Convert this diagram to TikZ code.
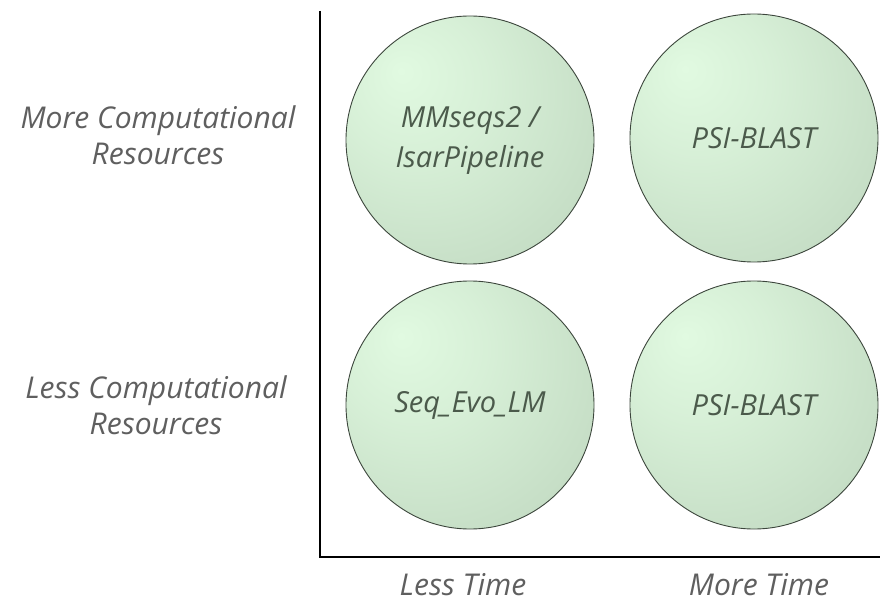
\documentclass[tikz,border=0pt]{standalone}
\usepackage{fontspec}
\setmainfont{Open Sans}
\definecolor{labelgray}{RGB}{95,95,95}
\definecolor{balltext}{RGB}{75,90,75}
\definecolor{ballhl}{RGB}{225,250,225}
\definecolor{ballmid}{RGB}{196,220,196}
\definecolor{balledge}{RGB}{160,186,160}
\definecolor{ballline}{RGB}{60,70,60}
\pgfdeclareradialshading{greenball}{\pgfpoint{-14bp}{14bp}}{%
  color(0bp)=(ballhl); color(15bp)=(ballhl!65!ballmid); color(38bp)=(ballmid); color(62bp)=(balledge); color(80bp)=(balledge)}
\tikzset{
  ball/.style={circle, minimum size=248pt, inner sep=0pt, draw=ballline, line width=0.9pt,
    shading=greenball, text=balltext, font=\itshape\fontsize{29}{40}\selectfont, align=center},
  axislabel/.style={text=labelgray, font=\itshape\fontsize{30}{36}\selectfont, align=center, inner sep=0pt},
  axisline/.style={line width=2.8pt, black}
}
\begin{document}
\begin{tikzpicture}[x=1pt,y=1pt]
\useasboundingbox (0,0) rectangle (880,603);
% axes
\coordinate (top) at (320,592);
\coordinate (origin) at (320,46);
\coordinate (right) at (880,46);
\draw[axisline] (top) -- (origin) -- (right);
% balls
\node[ball] (tl) at (470,463) {MMseqs2 /\\IsarPipeline};
\node[ball] (tr) at (754,465) {PSI-BLAST};
\node[ball] (bl) at (470,198) {Seq\_Evo\_LM};
\node[ball] (br) at (754,198) {PSI-BLAST};
% labels
\node[axislabel] (more) at (158,468) {More Computational\\Resources};
\node[axislabel] (less) at (156,198) {Less Computational\\Resources};
\node[axislabel] (lesst) at (463,18) {Less Time};
\node[axislabel] (moret) at (759,18) {More Time};
\end{tikzpicture}
\end{document}
